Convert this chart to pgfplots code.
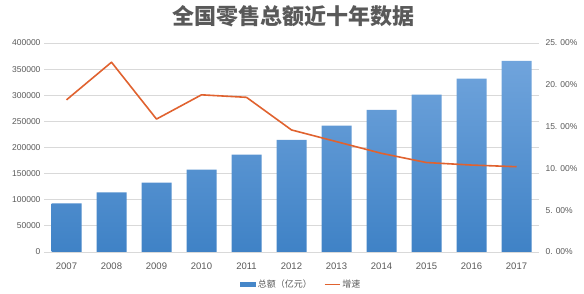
\documentclass[border=0pt]{standalone}
\usepackage{pgfplots}
\pgfplotsset{compat=1.18}
\usepackage{fontspec}
\setmainfont{Liberation Sans}
\newfontfamily\cjk{Noto Sans CJK SC}
\definecolor{txt}{HTML}{595959}
\definecolor{gridc}{HTML}{D9D9D9}
\definecolor{bartop}{HTML}{70A4DC}
\definecolor{barbot}{HTML}{3F82C6}
\definecolor{linec}{HTML}{E0622F}
\begin{document}
\begin{tikzpicture}
\useasboundingbox (0pt,0pt) rectangle (584pt,294pt);
\node[font=\cjk\bfseries\fontsize{22}{26}\selectfont, text=txt] at (293pt,278pt) {全国零售总额近十年数据};
\begin{axis}[
  at={(44pt,42pt)}, anchor=south west, scale only axis,
  width=495pt, height=209pt,
  xmin=-0.5, xmax=10.5, ymin=0, ymax=400000,
  axis line style={draw=none}, tick style={draw=none},
  ytick={0,50000,...,400000}, scaled y ticks=false,
  ymajorgrids, grid style={gridc, line width=0.8pt},
  xtick={0,...,10},
  xticklabels={2007,2008,2009,2010,2011,2012,2013,2014,2015,2016,2017},
  /pgf/number format/assume math mode=true,
  /pgf/number format/fixed, /pgf/number format/1000 sep={},
  yticklabel style={font=\fontsize{8.5}{10}\selectfont, text=txt},
  xticklabel style={font=\fontsize{9.5}{11}\selectfont, text=txt, yshift=-3pt},
  ybar, bar width=30pt,
]
\addplot[draw=none, top color=bartop, bottom color=barbot] coordinates {
(0,93200) (1,114300) (2,132700) (3,157500) (4,186300) (5,214400)
(6,241800) (7,271800) (8,301000) (9,331700) (10,366000)};
\end{axis}
\begin{axis}[
  at={(44pt,42pt)}, anchor=south west, scale only axis,
  width=495pt, height=209pt,
  xmin=-0.5, xmax=10.5, ymin=0, ymax=25,
  axis x line=none, axis y line*=right,
  axis line style={draw=none}, tick style={draw=none},
  ytick={0,5,...,25},
  yticklabels={0. 00\%,5. 00\%,10. 00\%,15. 00\%,20. 00\%,25. 00\%},
  yticklabel style={font=\fontsize{8.5}{10}\selectfont, text=txt, xshift=3pt},
  legend style={at={(0.52,-0.155)}, anchor=center, draw=none, fill=none,
    legend columns=2, font=\cjk\fontsize{9}{10}\selectfont, text=txt,
    /tikz/every even column/.append style={column sep=10pt}},
]
\addlegendimage{legend image code/.code={\fill[barbot!85!bartop] (0pt,-1.8pt) rectangle (15pt,1.8pt);}}
\addlegendentry{总额（亿元）}
\addlegendimage{legend image code/.code={\draw[linec, line width=1.6pt] (0pt,0pt) -- (15pt,0pt);}}
\addlegendentry{增速}
\addplot[linec, line width=1.6pt, line join=round] coordinates {
(0,18.2) (1,22.7) (2,15.9) (3,18.8) (4,18.5) (5,14.6)
(6,13.2) (7,11.8) (8,10.7) (9,10.4) (10,10.2)};
\end{axis}
\end{tikzpicture}
\end{document}
